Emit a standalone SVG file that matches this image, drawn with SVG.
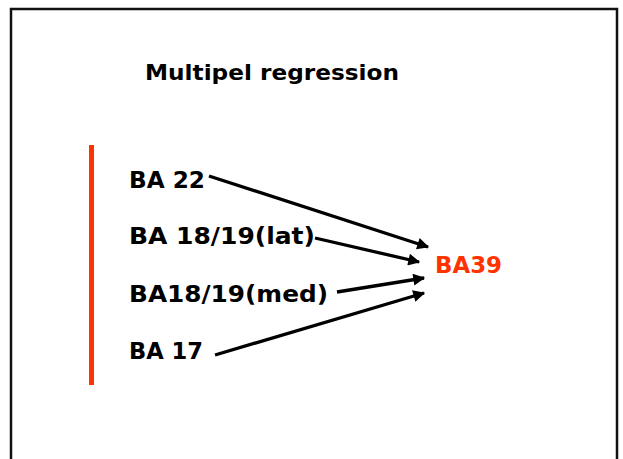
<svg xmlns="http://www.w3.org/2000/svg" width="623" height="459" viewBox="0 0 623 459">
  <style>
    .lbl { font-family: "DejaVu Sans", "Liberation Sans", sans-serif; font-weight: bold; font-size: 23px; fill: #000; }
    .title { font-size: 21px; }
    .target { fill: #ff3300; }
    .conn line { stroke: #000; stroke-width: 3.3; marker-end: url(#head); }
  </style>
  <defs>
    <marker id="head" viewBox="0 0 10 10" refX="9" refY="5" markerWidth="4.8" markerHeight="3.6" orient="auto" markerUnits="strokeWidth">
      <path d="M0,0 L10,5 L0,10 Z" fill="#000"/>
    </marker>
  </defs>
  <rect width="623" height="459" fill="#fff"/>
  <!-- slide frame, open at the bottom -->
  <path d="M11,470 V9 H617 V470" fill="none" stroke="#111" stroke-width="2.5"/>

  <g id="title">
    <text class="lbl title" x="145" y="80" textLength="254" lengthAdjust="spacingAndGlyphs">Multipel regression</text>
  </g>

  <!-- red bracket beside the predictors -->
  <g id="bracket">
    <rect x="89" y="145" width="5" height="240" fill="#ff3300"/>
  </g>

  <g id="ba22">
    <text class="lbl" x="129" y="188" textLength="76" lengthAdjust="spacingAndGlyphs">BA 22</text>
  </g>
  <g id="ba1819lat">
    <text class="lbl" x="129" y="244" textLength="186" lengthAdjust="spacingAndGlyphs">BA 18/19(lat)</text>
  </g>
  <g id="ba1819med">
    <text class="lbl" x="129" y="302" textLength="199" lengthAdjust="spacingAndGlyphs">BA18/19(med)</text>
  </g>
  <g id="ba17">
    <text class="lbl" x="129" y="359" textLength="74" lengthAdjust="spacingAndGlyphs">BA 17</text>
  </g>
  <g id="ba39">
    <text class="lbl target" x="435" y="273" textLength="67" lengthAdjust="spacingAndGlyphs">BA39</text>
  </g>

  <g id="connectors" class="conn">
    <line x1="209" y1="176" x2="428" y2="247"/>
    <line x1="315" y1="238" x2="419" y2="262"/>
    <line x1="337" y1="292" x2="424" y2="278"/>
    <line x1="215" y1="355" x2="424" y2="293"/>
  </g>
</svg>
